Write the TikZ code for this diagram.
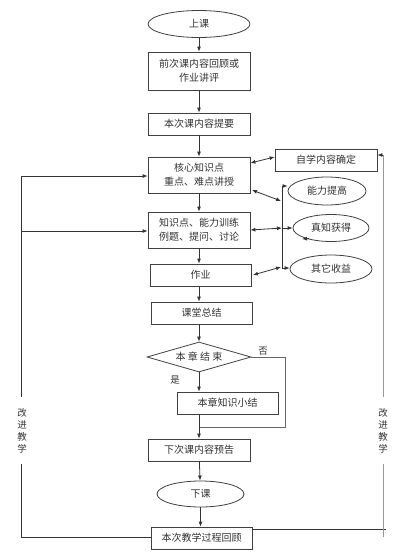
\documentclass[tikz,border=0pt]{standalone}
\usepackage{fontspec}
\setmainfont{Noto Sans CJK SC}
\usetikzlibrary{shapes.geometric,arrows.meta}
\begin{document}
\begin{tikzpicture}[x=1pt,y=-1pt,
  font=\fontsize{10}{14}\selectfont,
  every node/.style={inner sep=0pt, text=black!80},
  boxn/.style={draw=black!75, line width=0.8pt, rectangle, minimum width=#1, minimum height=22, align=center},
  boxn/.default=102,
  ell/.style={draw=black!75, line width=0.8pt, ellipse},
  ln/.style={draw=black!80, line width=0.8pt},
  arr/.style={ln, -{Latex[length=5pt,width=4pt]}},
  darr/.style={ln, {Latex[length=5pt,width=4pt]}-{Latex[length=5pt,width=4pt]}},
  gln/.style={draw=black!40, line width=1pt},
  lab/.style={font=\fontsize{9.5}{11}\selectfont}
]
\useasboundingbox (0,0) rectangle (413,555);
\fill[white] (0,0) rectangle (413,555);

% main column
\node[ell, minimum width=102, minimum height=27] (sk) at (199,24) {上课};
\node[boxn, minimum height=38] (b1) at (199,71) {前次课内容回顾或\\作业讲评};
\node[boxn] (b2) at (199,124) {本次课内容提要};
\node[boxn, minimum height=36] (b3) at (199,175) {核心知识点\\重点、难点讲授};
\node[boxn, minimum height=36] (b4) at (199,230) {知识点、能力训练\\例题、提问、讨论};
\node[boxn=101] (b5) at (200.5,275) {作业};
\node[boxn=101] (b6) at (201.5,313) {课堂总结};
\node[draw=black!75, line width=0.8pt, diamond, minimum width=104, minimum height=30, shape aspect=3.4] (d) at (199,357) {本 章 结 束};
\node[boxn=101] (b7) at (227.5,403) {本章知识小结};
\node[boxn] (b8) at (199,450) {下次课内容预告};
\node[ell, minimum width=87, minimum height=26] (xk) at (200.5,494) {下课};
\node[boxn=101] (b9) at (201.5,538) {本次教学过程回顾};

% right side
\node[boxn] (zx) at (326,160) {自学内容确定};
\node[ell, minimum width=78, minimum height=28] (e1) at (327,191) {能力提高};
\node[ell, minimum width=76, minimum height=27] (e2) at (331,228) {真知获得};
\node[ell, minimum width=82, minimum height=28] (e3) at (331,269) {其它收益};

% labels
\node[lab] (no) at (263,351) {否};
\node[lab] (yes) at (175,380) {是};
\node[lab, align=center] (lt) at (22,431) {改\\[1pt]进\\[1pt]教\\[1pt]学};
\node[lab, align=center] (rt) at (383,431) {改\\[1pt]进\\[1pt]教\\[1pt]学};

% main flow
\draw[arr] (sk) -- (b1);
\draw[arr] (b1) -- (b2);
\draw[arr] (b2) -- (b3);
\draw[arr] (b3) -- (b4);
\draw[arr] (b4.south) -- (b4.south |- b5.north);
\draw[arr] (b4.south |- b5.south) -- (b4.south |- b6.north);
\draw[arr] (b4.south |- b6.south) -- (d.north);
\draw[arr] (d.south) -- (d.south |- b7.north);
\coordinate (nr) at (285,357);
\coordinate (nb) at (285,427);
\coordinate (nj) at (199,427);
\draw[ln, draw=black!60] (d.east) -- (nr) -- (nb) -- (nj);
\draw[ln] (d.south |- b7.south) -- (nj);
\draw[arr] (nj) -- (b8.north);
\draw[arr] (b8) -- (xk);
\draw[arr] (xk.south) -- (xk.south |- b9.north);

% right connections
\coordinate (bt) at (282,186);
\coordinate (bb) at (282,268);
\coordinate (b3a) at (252,190);
\coordinate (b3b) at (281,201);
\coordinate (b4b) at (282,228);
\coordinate (b5a) at (253,275);
\coordinate (b5b) at (281,267);
\draw[darr] (b3.east |- zx.west) ++(0,3) -- ([yshift=3pt]zx.west);
\draw[ln] (bt) -- (bb);
\draw[arr] (bt) -- (bt -| e1.west);
\draw[arr] (bb) -- (bb -| e3.west);
\draw[darr] (b3a) -- (b3b);
\draw[darr] (b4.east) -- (b4b);
\draw[arr] (b4b) -- (e2.west);
\draw[darr] (b5a) -- (b5b);
\coordinate (sa) at (309,238.5);
\coordinate (sb) at (302,239);
\draw[arr] (sa) -- (sb);

% left loop
\coordinate (l1) at (21,176);
\coordinate (l2) at (21,231);
\coordinate (l3) at (21,397);
\coordinate (l4) at (21,464);
\coordinate (l5) at (21,537);
\draw[ln] (b9.west |- l5) -- (l5) -- (l4);
\draw[arr] (l3) -- (l1) -- (l1 -| b3.west);
\draw[arr] (l2) -- (l2 -| b4.west);

% right loop
\coordinate (r1) at (383,155);
\coordinate (r3) at (383,397);
\coordinate (r4) at (383,464);
\coordinate (r5) at (383,537);
\coordinate (r6) at (386,529);
\draw[ln] (b9.east |- r6) -- (r6);
\draw[gln] (r5) -- (r4);
\draw[gln] (r3) -- (r1);
\draw[arr] (r1) -- (r1 -| zx.east);
\end{tikzpicture}
\end{document}
